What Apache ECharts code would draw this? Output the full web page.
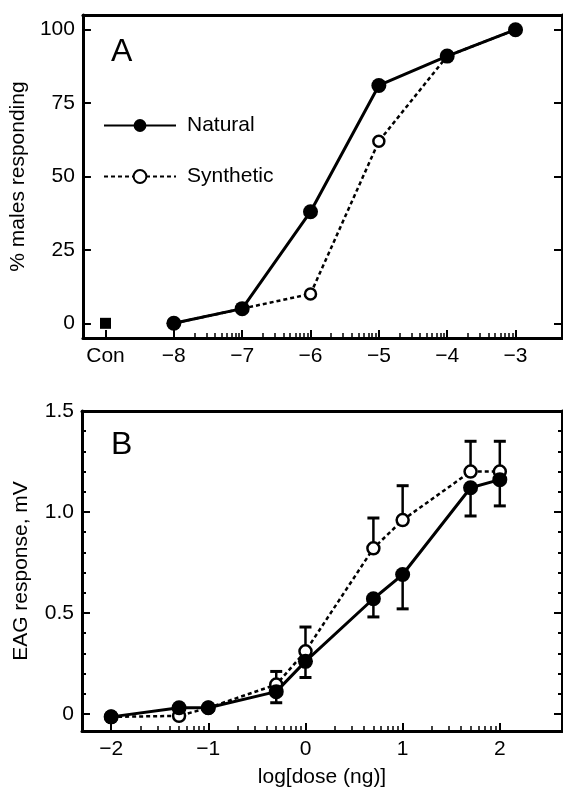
<!DOCTYPE html>
<html><head><meta charset="utf-8">
<script src="https://cdn.jsdelivr.net/npm/echarts@6/dist/echarts.min.js"></script>
<style>html,body{margin:0;padding:0;background:#fff}#c{width:563px;height:789px}</style>
</head><body><div id="c"></div>
<script>
// ---------- Panel A data ----------
const doseA = [-8, -7, -6, -5, -4, -3];
const naturalA = [0, 5, 38, 81, 91, 100];
const syntheticA = [0, 5, 10, 62, 91, 100];
const controlX = [-9];
const controlY = [0];
const xTicksA = [-9, -8, -7, -6, -5, -4, -3];
const yTicksA = [0, 25, 50, 75, 100];

// ---------- Panel B data ----------
const doseB = [-2, -1.301, -1, -0.301, 0, 0.699, 1, 1.699, 2];
const naturalB = [-0.015, 0.03, 0.03, 0.11, 0.26, 0.57, 0.69, 1.12, 1.16];
const naturalBLow = [null, null, null, 0.055, 0.18, 0.48, 0.52, 0.98, 1.03];
const syntheticB = [-0.015, -0.01, 0.03, 0.145, 0.31, 0.82, 0.96, 1.20, 1.20];
const syntheticBHigh = [null, null, null, 0.21, 0.43, 0.97, 1.13, 1.35, 1.35];
const xTicksB = [-2, -1, 0, 1, 2];
const yTicksB = [0, 0.5, 1.0, 1.5];
const yMinorB = [0.1, 0.2, 0.3, 0.4, 0.6, 0.7, 0.8, 0.9, 1.1, 1.2, 1.3, 1.4];

function logMinor(from, to) {
  const out = [];
  for (let d = from; d < to; d++) for (let k = 2; k <= 9; k++) out.push(d + Math.log10(k));
  return out;
}
const xMinorA = logMinor(-8, -3);
const xMinorB = logMinor(-2, 2);

const FONT = "'Liberation Sans', Arial, Helvetica, sans-serif";
const BLACK = '#000';
const FS = 21;
const minus = v => String(v).replace('-', '\u2212');

function mainX(grid, min, max, ticks, fmt, name) {
  return {
    gridIndex: grid, type: 'value', min, max, position: 'bottom',
    axisLine: { show: true, onZero: false, lineStyle: { color: BLACK, width: 3 } },
    axisTick: { show: true, inside: true, length: 8, customValues: ticks, lineStyle: { color: BLACK, width: 2 } },
    axisLabel: { show: true, customValues: ticks, formatter: fmt, color: BLACK, fontSize: FS, fontFamily: FONT, margin: 8 },
    splitLine: { show: false },
    name: name || '', nameLocation: 'middle', nameGap: 36,
    nameTextStyle: { color: BLACK, fontSize: FS, fontFamily: FONT }
  };
}
function minorX(grid, min, max, ticks) {
  return {
    gridIndex: grid, type: 'value', min, max, position: 'bottom',
    axisLine: { show: false, onZero: false },
    axisTick: { show: true, inside: true, length: 5, customValues: ticks, lineStyle: { color: BLACK, width: 1.5 } },
    axisLabel: { show: false }, splitLine: { show: false }
  };
}
function topX(grid, min, max) {
  return {
    gridIndex: grid, type: 'value', min, max, position: 'top',
    axisLine: { show: true, onZero: false, lineStyle: { color: BLACK, width: 3 } },
    axisTick: { show: false }, axisLabel: { show: false }, splitLine: { show: false }
  };
}
function yAx(grid, min, max, pos, ticks, len, width, labels, fmt, name, showLine) {
  return {
    gridIndex: grid, type: 'value', min, max, position: pos,
    axisLine: { show: showLine, onZero: false, lineStyle: { color: BLACK, width: 3 } },
    axisTick: { show: true, inside: true, length: len, customValues: ticks, lineStyle: { color: BLACK, width: width } },
    axisLabel: labels ? { show: true, customValues: ticks, formatter: fmt, color: BLACK, fontSize: FS, fontFamily: FONT, margin: 8 } : { show: false },
    splitLine: { show: false },
    name: name || '', nameLocation: 'middle', nameGap: 50, nameRotate: 90,
    nameTextStyle: { color: BLACK, fontSize: FS, fontFamily: FONT }
  };
}

const A_MIN = -9.33, A_MAX = -2.32, B_MIN = -2.3, B_MAX = 2.64;

const fmtA = v => (v === -9 ? 'Con' : minus(v));
const fmtB = v => minus(v);
const fmtYB = v => (v === 0 ? '0' : v.toFixed(1));

function errBar(xIdx, yIdx, ys, ends) {
  const data = [];
  doseB.forEach((x, i) => { if (ends[i] != null) data.push([x, ys[i], ends[i]]); });
  return {
    type: 'custom', xAxisIndex: xIdx, yAxisIndex: yIdx, z: 1, silent: true,
    encode: { x: 0, y: [1, 2] }, data,
    renderItem(params, api) {
      const p0 = api.coord([api.value(0), api.value(1)]);
      const p1 = api.coord([api.value(0), api.value(2)]);
      const hw = 6;
      return {
        type: 'group', children: [
          { type: 'line', shape: { x1: p0[0], y1: p0[1], x2: p1[0], y2: p1[1] }, style: { stroke: BLACK, lineWidth: 2.5 } },
          { type: 'line', shape: { x1: p1[0] - hw, y1: p1[1], x2: p1[0] + hw, y2: p1[1] }, style: { stroke: BLACK, lineWidth: 3 } }
        ]
      };
    }
  };
}

const naturalStyle = {
  symbol: 'circle', symbolSize: 15,
  itemStyle: { color: BLACK, borderWidth: 0 },
  lineStyle: { color: BLACK, width: 3, type: 'solid' }
};
const syntheticStyle = {
  symbol: 'circle', symbolSize: 11,
  itemStyle: { color: '#fff', borderColor: BLACK, borderWidth: 2.5 },
  lineStyle: { color: BLACK, width: 2.5, type: [4, 3] }
};

const option = {
  animation: false,
  backgroundColor: '#fff',
  textStyle: { fontFamily: FONT },
  title: [
    { text: 'A', left: 106, top: 31, textStyle: { fontSize: 32, fontWeight: 'normal', color: BLACK, fontFamily: FONT } },
    { text: 'B', left: 106, top: 424, textStyle: { fontSize: 32, fontWeight: 'normal', color: BLACK, fontFamily: FONT } }
  ],
  legend: {
    data: ['Natural', 'Synthetic'], orient: 'vertical', left: 98, top: 110,
    itemWidth: 72, itemHeight: 16, itemGap: 30, selectedMode: false,
    textStyle: { fontSize: FS, color: BLACK, fontFamily: FONT, padding: [0, 0, 0, 6] }
  },
  grid: [
    { left: 79, right: 1, top: 15, height: 323 },
    { left: 82, right: 1, top: 411, height: 320 }
  ],
  xAxis: [
    mainX(0, A_MIN, A_MAX, xTicksA, fmtA),
    minorX(0, A_MIN, A_MAX, xMinorA),
    topX(0, A_MIN, A_MAX),
    mainX(1, B_MIN, B_MAX, xTicksB, fmtB, 'log[dose (ng)]'),
    minorX(1, B_MIN, B_MAX, xMinorB),
    topX(1, B_MIN, B_MAX)
  ],
  yAxis: [
    yAx(0, -5, 105, 'left', yTicksA, 8, 2, true, v => String(v), '% males responding', true),
    yAx(0, -5, 105, 'right', yTicksA, 8, 2, false, null, '', true),
    yAx(1, -0.085, 1.5, 'left', yTicksB, 8, 2, true, fmtYB, 'EAG response, mV', true),
    yAx(1, -0.085, 1.5, 'left', yMinorB, 4, 2, false, null, '', false),
    yAx(1, -0.085, 1.5, 'right', yTicksB, 8, 2, false, null, '', true),
    yAx(1, -0.085, 1.5, 'right', yMinorB, 4, 2, false, null, '', false)
  ],
  series: [
    Object.assign({ name: 'Synthetic', type: 'line', xAxisIndex: 0, yAxisIndex: 0, z: 2,
      data: doseA.map((x, i) => [x, syntheticA[i]]) }, syntheticStyle),
    Object.assign({ name: 'Natural', type: 'line', xAxisIndex: 0, yAxisIndex: 0, z: 3,
      data: doseA.map((x, i) => [x, naturalA[i]]) }, naturalStyle),
    { name: 'Control', type: 'scatter', xAxisIndex: 0, yAxisIndex: 0, symbol: 'rect', symbolSize: 11,
      itemStyle: { color: BLACK, opacity: 1 }, data: controlX.map((x, i) => [x, controlY[i]]) },
    errBar(3, 2, syntheticB, syntheticBHigh),
    errBar(3, 2, naturalB, naturalBLow),
    Object.assign({ name: 'Synthetic', type: 'line', xAxisIndex: 3, yAxisIndex: 2, z: 2,
      data: doseB.map((x, i) => [x, syntheticB[i]]) }, syntheticStyle, { symbolSize: 12 }),
    Object.assign({ name: 'Natural', type: 'line', xAxisIndex: 3, yAxisIndex: 2, z: 3,
      data: doseB.map((x, i) => [x, naturalB[i]]) }, naturalStyle)
  ]
};
const chart = echarts.init(document.getElementById('c'), null, { renderer: 'canvas' });
chart.setOption(option);
</script>
</body></html>
